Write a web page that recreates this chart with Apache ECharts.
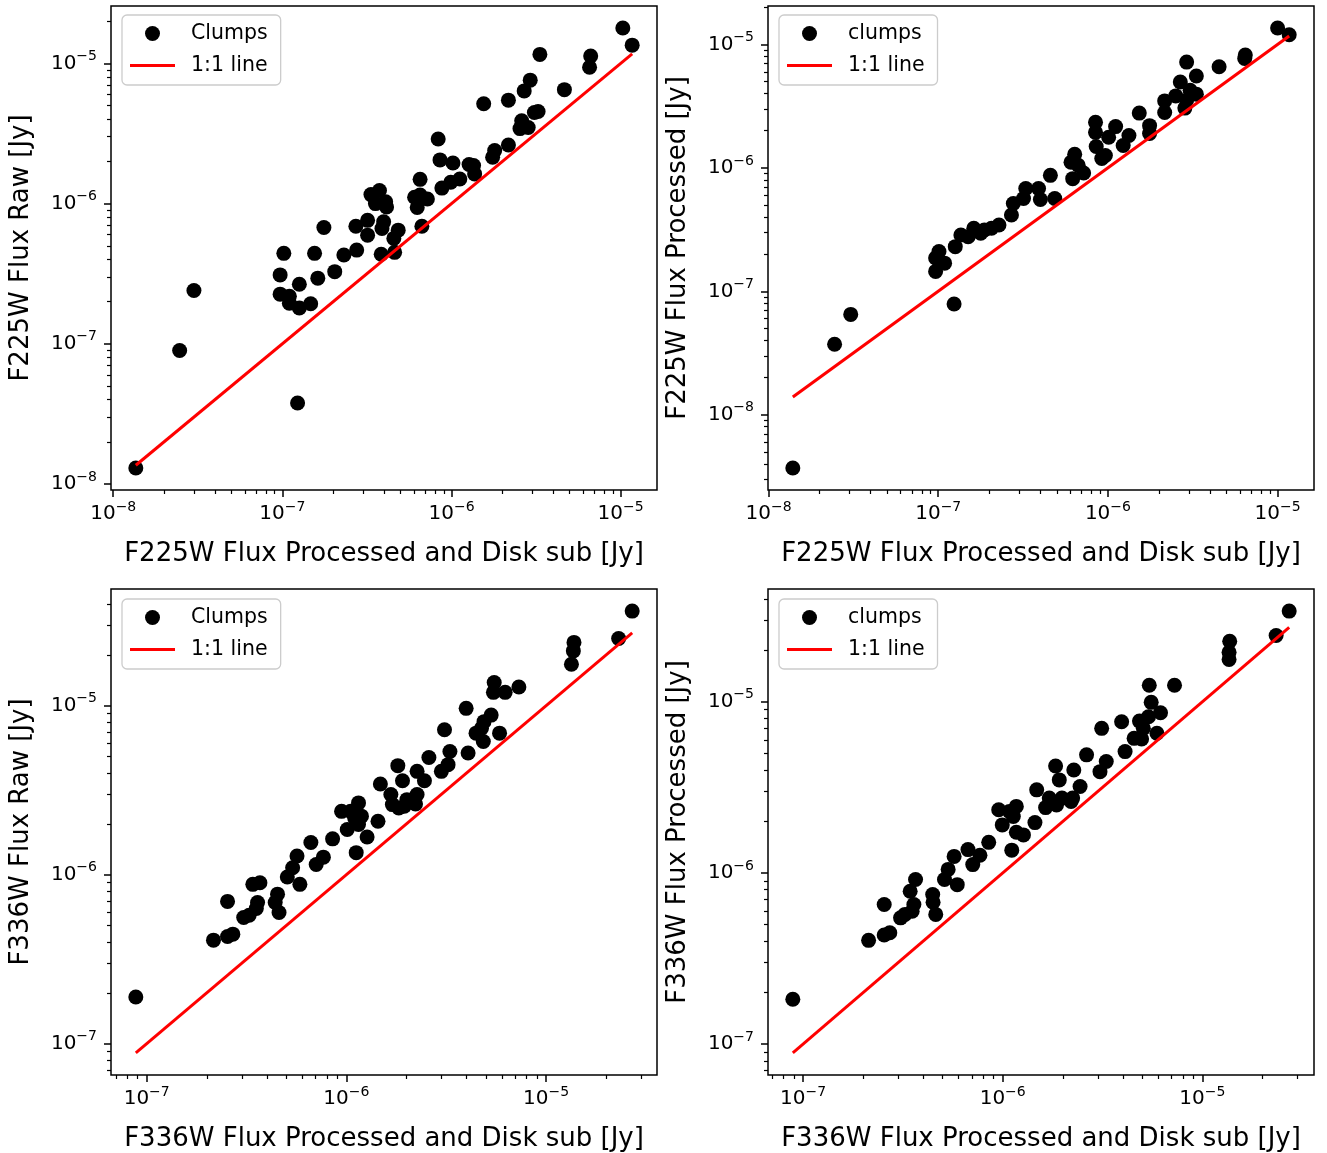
<!DOCTYPE html>
<html>
<head>
<meta charset="utf-8">
<script src="https://cdn.jsdelivr.net/npm/echarts@6/dist/echarts.min.js"></script>
<style>html,body{margin:0;padding:0;background:#fff}#chart{width:1327px;height:1153px}</style>
</head>
<body>
<div id="chart"></div>
<script>
// ---------- DATA ----------
// Panel 1: F225W Processed & Disk sub (x) vs F225W Raw (y)
const p1_x = [1.03e-5,1.17e-5,3.33e-6,6.65e-6,6.55e-6,2.92e-6,2.69e-6,4.65e-6,1.55e-6,2.17e-6,3.09e-6,3.25e-6,2.6e-6,2.54e-6,2.84e-6,2.17e-6,8.34e-7,1.8e-6,1.75e-6,8.55e-7,1.02e-6,1.27e-6,1.35e-6,1.37e-6,1.12e-6,9.9e-7,8.77e-7,6.52e-7,6.05e-7,6.52e-7,7.2e-7,6.27e-7,6.68e-7,3.75e-7,3.34e-7,3.55e-7,4.08e-7,4.13e-7,2.72e-7,3.19e-7,3.19e-7,3.97e-7,3.88e-7,4.84e-7,4.56e-7,3.84e-7,4.61e-7,1.76e-7,1.02e-7,1.55e-7,2.31e-7,2.75e-7,9.7e-8,2.04e-7,1.62e-7,1.26e-7,9.7e-8,1.1e-7,1.1e-7,1.26e-7,1.47e-7,3.0e-8,2.47e-8,1.23e-7,1.36e-8];
const p1_y = [1.79e-5,1.35e-5,1.16e-5,1.13e-5,9.4e-6,7.6e-6,6.37e-6,6.5e-6,5.16e-6,5.47e-6,4.47e-6,4.54e-6,3.9e-6,3.43e-6,3.49e-6,2.62e-6,2.89e-6,2.39e-6,2.14e-6,2.05e-6,1.95e-6,1.9e-6,1.87e-6,1.63e-6,1.5e-6,1.42e-6,1.29e-6,1.49e-6,1.11e-6,1.15e-6,1.08e-6,9.4e-7,6.9e-7,1.24e-6,1.16e-6,1.0e-6,1.03e-6,9.46e-7,6.9e-7,7.6e-7,5.96e-7,7.41e-7,6.65e-7,6.47e-7,5.65e-7,4.35e-7,4.49e-7,6.76e-7,4.42e-7,4.42e-7,4.3e-7,4.66e-7,3.1e-7,3.27e-7,2.94e-7,2.66e-7,2.26e-7,2.18e-7,1.95e-7,1.8e-7,1.93e-7,2.4e-7,8.95e-8,3.78e-8,1.3e-8];

// Panel 2: F225W Processed & Disk sub (x) vs F225W Processed (y)
const p2_x = [1.0e-5,1.17e-5,6.45e-6,6.4e-6,4.52e-6,2.91e-6,3.32e-6,2.67e-6,3.05e-6,3.32e-6,2.51e-6,2.16e-6,2.91e-6,2.84e-6,2.16e-6,1.53e-6,1.76e-6,1.76e-6,8.45e-7,8.45e-7,1.11e-6,1.01e-6,1.33e-6,1.23e-6,8.53e-7,9.66e-7,9.2e-7,6.37e-7,6.06e-7,6.68e-7,7.19e-7,6.2e-7,4.58e-7,4.86e-7,3.9e-7,4.0e-7,3.28e-7,3.18e-7,2.77e-7,2.7e-7,2.28e-7,2.06e-7,1.78e-7,1.62e-7,1.5e-7,1.26e-7,1.01e-7,9.65e-8,1.09e-7,9.65e-8,1.24e-7,3.05e-8,2.45e-8,1.39e-8,1.36e-7,1.87e-7];
const p2_y = [1.36e-5,1.2e-5,8.2e-6,7.7e-6,6.6e-6,7.2e-6,5.56e-6,4.97e-6,4.26e-6,3.96e-6,3.83e-6,3.49e-6,3.54e-6,3.05e-6,2.81e-6,2.78e-6,2.2e-6,1.9e-6,2.34e-6,1.94e-6,2.16e-6,1.77e-6,1.83e-6,1.52e-6,1.49e-6,1.26e-6,1.19e-6,1.29e-6,1.11e-6,1.05e-6,9.08e-7,8.18e-7,8.7e-7,5.65e-7,6.8e-7,5.55e-7,6.8e-7,5.65e-7,5.15e-7,4.15e-7,3.45e-7,3.24e-7,2.95e-7,3.24e-7,2.77e-7,2.3e-7,2.1e-7,1.86e-7,1.69e-7,1.45e-7,7.9e-8,6.5e-8,3.72e-8,3.7e-9,2.86e-7,3.14e-7];

// Panel 3: F336W Processed & Disk sub (x) vs F336W Raw (y)
const p3_x = [2.7e-5,2.31e-5,1.38e-5,1.37e-5,1.34e-5,5.5e-6,5.45e-6,6.24e-6,7.31e-6,3.98e-6,5.31e-6,4.89e-6,4.75e-6,4.46e-6,5.85e-6,4.85e-6,3.1e-6,3.3e-6,4.07e-6,2.59e-6,3.23e-6,2.99e-6,1.81e-6,2.26e-6,2.46e-6,1.91e-6,1.48e-6,1.67e-6,1.7e-6,1.83e-6,2.01e-6,2.26e-6,2.22e-6,1.95e-6,1.44e-6,9.46e-7,1.05e-6,1.15e-6,1.1e-6,1.19e-6,1.15e-6,1.01e-6,1.27e-6,1.12e-6,8.53e-7,6.64e-7,7.67e-7,7.06e-7,5.66e-7,5.38e-7,5.06e-7,5.85e-7,3.4e-7,3.69e-7,4.52e-7,4.4e-7,4.6e-7,3.59e-7,3.54e-7,3.26e-7,3.06e-7,2.54e-7,2.16e-7,2.54e-7,2.7e-7,8.82e-8];
const p3_y = [3.63e-5,2.5e-5,2.37e-5,2.11e-5,1.76e-5,1.37e-5,1.2e-5,1.2e-5,1.29e-5,9.65e-6,8.8e-6,8.05e-6,7.35e-6,6.88e-6,6.88e-6,6.14e-6,7.2e-6,5.36e-6,5.25e-6,4.94e-6,4.48e-6,4.09e-6,4.42e-6,4.09e-6,3.6e-6,3.6e-6,3.44e-6,2.98e-6,2.6e-6,2.48e-6,2.78e-6,2.98e-6,2.62e-6,2.54e-6,2.07e-6,2.37e-6,2.37e-6,2.66e-6,2.17e-6,2.22e-6,1.98e-6,1.85e-6,1.67e-6,1.35e-6,1.63e-6,1.55e-6,1.27e-6,1.15e-6,1.29e-6,1.1e-6,9.7e-7,8.77e-7,8.77e-7,8.97e-7,7.67e-7,6.85e-7,5.98e-7,6.85e-7,6.31e-7,5.76e-7,5.58e-7,6.95e-7,4.1e-7,4.31e-7,4.45e-7,1.89e-7];

// Panel 4: F336W Processed & Disk sub (x) vs F336W Processed (y)
const p4_x = [2.72e-5,2.34e-5,1.37e-5,1.36e-5,1.36e-5,5.42e-6,7.25e-6,5.54e-6,6.17e-6,5.37e-6,4.84e-6,3.94e-6,3.13e-6,5.06e-6,5.92e-6,4.55e-6,4.96e-6,4.1e-6,2.63e-6,3.3e-6,3.07e-6,1.84e-6,2.27e-6,1.92e-6,2.44e-6,1.48e-6,1.71e-6,1.98e-6,2.24e-6,1.64e-6,1.86e-6,2.2e-6,1.45e-6,9.55e-7,1.08e-6,1.17e-6,1.13e-6,9.95e-7,1.17e-6,1.27e-6,1.11e-6,8.51e-7,6.7e-7,7.69e-7,7.08e-7,5.71e-7,5.33e-7,5.11e-7,3.66e-7,5.92e-7,3.44e-7,3.59e-7,3.52e-7,3.24e-7,3.08e-7,4.46e-7,4.48e-7,4.62e-7,2.55e-7,2.13e-7,2.55e-7,2.72e-7,8.89e-8];
const p4_y = [3.39e-5,2.44e-5,2.26e-5,1.95e-5,1.77e-5,1.25e-5,1.25e-5,9.93e-6,8.63e-6,8.18e-6,7.72e-6,7.65e-6,7.0e-6,7.0e-6,6.55e-6,6.12e-6,6.07e-6,5.12e-6,4.9e-6,4.48e-6,3.91e-6,4.22e-6,4.0e-6,3.5e-6,3.2e-6,3.06e-6,2.74e-6,2.74e-6,2.74e-6,2.41e-6,2.5e-6,2.62e-6,1.97e-6,2.34e-6,2.29e-6,2.45e-6,2.14e-6,1.91e-6,1.73e-6,1.67e-6,1.36e-6,1.51e-6,1.37e-6,1.27e-6,1.12e-6,1.25e-6,1.05e-6,9.16e-7,9.16e-7,8.55e-7,7.82e-7,6.54e-7,5.98e-7,5.73e-7,5.47e-7,7.48e-7,6.75e-7,5.73e-7,6.54e-7,4.04e-7,4.34e-7,4.48e-7,1.83e-7];

// Tick label exponents (major ticks at 10^n)
const ticksTopX = [-8, -7, -6, -5];
const ticksP1Y = [-8, -7, -6, -5];
const ticksP2Y = [-8, -7, -6, -5];
const ticksBotX = [-7, -6, -5];
const ticksP3Y = [-7, -6, -5];
const ticksP4Y = [-7, -6, -5];

const xNameTop = 'F225W Flux Processed and Disk sub [Jy]';
const xNameBot = 'F336W Flux Processed and Disk sub [Jy]';
const yNames = ['F225W Flux Raw [Jy]', 'F225W Flux Processed [Jy]', 'F336W Flux Raw [Jy]', 'F336W Flux Processed [Jy]'];
const scatterNames = ['Clumps', 'clumps', 'Clumps', 'clumps'];
const lineName = '1:1 line';

// ---------- LAYOUT / STYLE ----------
const FONT = 'DejaVu Sans';
const grids = [
  {left: 111, top: 6, width: 546, height: 484},
  {left: 768, top: 6, width: 546, height: 484},
  {left: 111, top: 589, width: 546, height: 486},
  {left: 768, top: 589, width: 546, height: 486}
];
const legendPos = [{left: 122, top: 15}, {left: 779, top: 15}, {left: 122, top: 599}, {left: 779, top: 599}];

const panels = [
  {x: p1_x, y: p1_y, xt: ticksTopX, yt: ticksP1Y, xName: xNameTop},
  {x: p2_x, y: p2_y, xt: ticksTopX, yt: ticksP2Y, xName: xNameTop},
  {x: p3_x, y: p3_y, xt: ticksBotX, yt: ticksP3Y, xName: xNameBot},
  {x: p4_x, y: p4_y, xt: ticksBotX, yt: ticksP4Y, xName: xNameBot}
];

// matplotlib-style autoscale in log space (5% margins)
function logExtent(vals) {
  const l = vals.map(v => Math.log10(v));
  const lo = Math.min(...l), hi = Math.max(...l);
  const m = (hi - lo) * 0.05;
  return [lo - m, hi + m];
}
function minorTicks(ext) {
  const out = [];
  for (let n = Math.floor(ext[0]) - 1; n <= Math.ceil(ext[1]); n++) {
    for (let k = 2; k <= 9; k++) {
      const v = n + Math.log10(k);
      if (v > ext[0] && v < ext[1]) out.push(v);
    }
  }
  return out;
}
function fmt(v) {
  const e = Math.round(v);
  return '{a|10}{s|' + (e < 0 ? '\u2212' : '') + Math.abs(e) + '}';
}
const rich = {
  a: {fontSize: 20, lineHeight: 28, fontFamily: FONT, color: '#000'},
  s: {fontSize: 14, lineHeight: 18, verticalAlign: 'top', fontFamily: FONT, color: '#000'}
};
const tickLine = {color: '#000', width: 1.5};

const xAxis = [], yAxis = [], series = [], legend = [];
panels.forEach((p, i) => {
  const xmin = Math.min(...p.x), xmax = Math.max(...p.x);
  const ex = logExtent(p.x);
  const ey = logExtent(p.y.concat([xmin, xmax]));
  // data axes (log scale)
  xAxis.push({type: 'log', gridIndex: i, min: Math.pow(10, ex[0]), max: Math.pow(10, ex[1]), show: false});
  yAxis.push({type: 'log', gridIndex: i, min: Math.pow(10, ey[0]), max: Math.pow(10, ey[1]), show: false});
  // major ticks + labels (in log10 units)
  xAxis.push({
    type: 'value', gridIndex: i, position: 'bottom', min: ex[0], max: ex[1],
    axisLine: {show: false}, splitLine: {show: false},
    axisTick: {show: true, customValues: p.xt, length: 7, lineStyle: tickLine},
    axisLabel: {customValues: p.xt, formatter: fmt, rich: rich, margin: 10},
    name: p.xName, nameLocation: 'middle', nameGap: 51,
    nameTextStyle: {fontSize: 26, fontFamily: FONT, color: '#000'}
  });
  yAxis.push({
    type: 'value', gridIndex: i, position: 'left', min: ey[0], max: ey[1],
    axisLine: {show: false}, splitLine: {show: false},
    axisTick: {show: true, customValues: p.yt, length: 7, lineStyle: tickLine},
    axisLabel: {customValues: p.yt, formatter: fmt, rich: rich, margin: 14},
    name: yNames[i], nameLocation: 'middle', nameGap: 77,
    nameTextStyle: {fontSize: 26, fontFamily: FONT, color: '#000'}
  });
  // minor ticks
  xAxis.push({
    type: 'value', gridIndex: i, position: 'bottom', min: ex[0], max: ex[1],
    axisLine: {show: false}, splitLine: {show: false}, axisLabel: {show: false},
    axisTick: {show: true, customValues: minorTicks(ex), length: 4, lineStyle: {color: '#000', width: 1.2}}
  });
  yAxis.push({
    type: 'value', gridIndex: i, position: 'left', min: ey[0], max: ey[1],
    axisLine: {show: false}, splitLine: {show: false}, axisLabel: {show: false},
    axisTick: {show: true, customValues: minorTicks(ey), length: 4, lineStyle: {color: '#000', width: 1.2}}
  });

  series.push({
    name: scatterNames[i], type: 'scatter', xAxisIndex: 3 * i, yAxisIndex: 3 * i,
    data: p.x.map((v, k) => [v, p.y[k]]),
    symbol: 'circle', symbolSize: 15,
    itemStyle: {color: '#000', opacity: 1}, z: 2,
    emphasis: {disabled: true}
  });
  series.push({
    name: lineName, type: 'line', xAxisIndex: 3 * i, yAxisIndex: 3 * i,
    data: [[xmin, xmin], [xmax, xmax]],
    symbol: 'none', showSymbol: false,
    lineStyle: {color: '#ff0000', width: 3}, itemStyle: {color: '#ff0000'},
    z: 3, emphasis: {disabled: true}
  });
  legend.push({
    data: [
      {name: scatterNames[i], icon: 'circle'},
      {name: lineName, icon: 'path://M0,0L45,0L45,3L0,3Z'}
    ],
    left: legendPos[i].left, top: legendPos[i].top,
    orient: 'vertical', itemWidth: 45, itemHeight: 15, itemGap: 7,
    padding: [6, 13, 7, 8],
    backgroundColor: 'rgba(255,255,255,0.8)', borderColor: '#cccccc', borderWidth: 1.3, borderRadius: 5,
    textStyle: {fontSize: 20.5, fontFamily: FONT, color: '#000', padding: [0, 0, 0, 11], lineHeight: 25},
    selectedMode: false
  });
});

const chart = echarts.init(document.getElementById('chart'), null, {renderer: 'canvas'});
chart.setOption({
  animation: false,
  backgroundColor: '#ffffff',
  textStyle: {fontFamily: FONT},
  grid: grids.map(g => Object.assign({show: true, borderColor: '#000', borderWidth: 1.5, backgroundColor: 'transparent', containLabel: false, outerBoundsMode: 'none'}, g)),
  xAxis: xAxis,
  yAxis: yAxis,
  legend: legend,
  tooltip: {show: false},
  series: series
});
</script>
</body>
</html>
